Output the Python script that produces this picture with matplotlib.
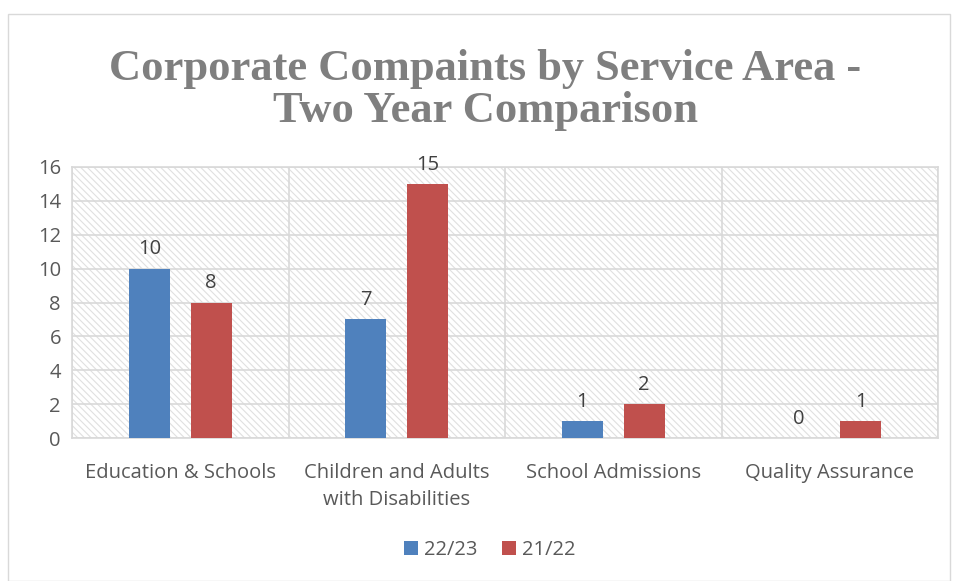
import numpy as np
import matplotlib.pyplot as plt
from matplotlib.patches import Rectangle

categories = ["Education & Schools", "Children and Adults\nwith Disabilities",
              "School Admissions", "Quality Assurance"]
series_names = ["22/23", "21/22"]
vals_2223 = [10, 7, 1, 0]
vals_2122 = [8, 15, 2, 1]
colors = ["#4f81bd", "#c0504d"]

plt.rcParams['hatch.linewidth'] = 0.8
plt.rcParams['hatch.color'] = "#d9d9d9"
FS = 14.5

fig = plt.figure(figsize=(9.55, 5.81), dpi=100)
fig.patches.append(Rectangle((8 / 955, 0), 942 / 955, 1 - 14 / 581, transform=fig.transFigure,
                             fill=False, edgecolor="#d9d9d9", linewidth=1))

ax = fig.add_axes([72 / 955, 1 - 438 / 581, 866 / 955, 271 / 581])
ax.add_patch(Rectangle((0, 0), 1, 1, transform=ax.transAxes, facecolor="white",
                       edgecolor="#e0e0e0", hatch="\\\\\\\\\\", linewidth=0, zorder=0))

x = np.arange(len(categories))
w = 0.19
off = 0.143
b1 = ax.bar(x - off, vals_2223, w, color=colors[0], label=series_names[0], zorder=3)
b2 = ax.bar(x + off, vals_2122, w, color=colors[1], label=series_names[1], zorder=3)

for bars, vals in ((b1, vals_2223), (b2, vals_2122)):
    for rect, v in zip(bars, vals):
        ax.text(rect.get_x() + rect.get_width() / 2, v + 0.55, str(v), ha="center", va="bottom",
                fontsize=FS, color="#404040", family="Open Sans", zorder=4)

ax.set_xlim(-0.5, len(categories) - 0.5)
ax.set_ylim(0, 16)
ax.set_yticks(range(0, 17, 2))
ax.set_xticks(x)
ax.set_xticklabels(categories, fontsize=FS, color="#595959", family="Open Sans", linespacing=1.45)
ax.tick_params(axis="y", labelsize=FS, labelcolor="#595959", length=0, pad=8)
ax.tick_params(axis="x", length=0, pad=18)
for lab in ax.get_yticklabels():
    lab.set_family("Open Sans")

ax.grid(axis="y", color="#d9d9d9", linewidth=1.2, zorder=1)
for xb in np.arange(-0.5, len(categories), 1.0):
    ax.axvline(xb, color="#d9d9d9", linewidth=1.2, zorder=1)
ax.set_axisbelow(True)
for s in ax.spines.values():
    s.set_color("#d9d9d9")
    s.set_linewidth(1.2)

fig.text(0.508, 1 - 90 / 581, "Corporate Compaints by Service Area -\nTwo Year Comparison",
         ha="center", va="center", fontsize=32, fontweight="bold", color="#7f7f7f",
         family="Liberation Serif", linespacing=1.05)

fig.legend(handles=[b1, b2], labels=series_names, loc="center", bbox_to_anchor=(0.513, 1 - 550 / 581),
           ncol=2, frameon=False, prop={"family": "Open Sans", "size": FS},
           handlelength=0.7, handleheight=0.7, handletextpad=0.3, columnspacing=1.2,
           labelcolor="#595959")

fig.savefig("out.png", dpi=100)
